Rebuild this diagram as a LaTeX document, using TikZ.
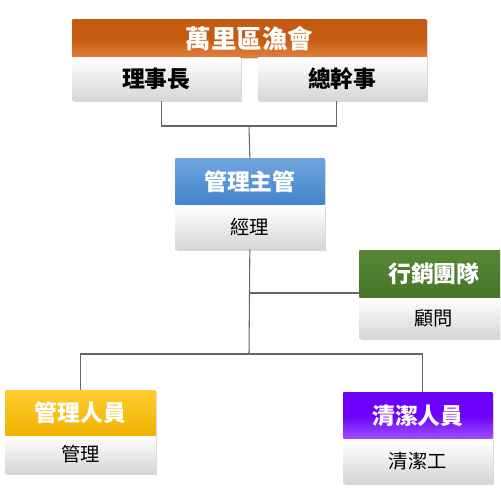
\documentclass[tikz,border=0pt]{standalone}
\usepackage{fontspec}
\setmainfont{Noto Sans CJK TC}
\usetikzlibrary{positioning,shadows}

\definecolor{orgTop}{RGB}{197,90,17}
\definecolor{orgBot}{RGB}{226,128,62}
\definecolor{bluTop}{RGB}{112,166,222}
\definecolor{bluBot}{RGB}{66,132,206}
\definecolor{grnTop}{RGB}{88,134,54}
\definecolor{grnBot}{RGB}{72,118,42}
\definecolor{ylwTop}{RGB}{255,204,48}
\definecolor{ylwBot}{RGB}{240,178,0}
\definecolor{prpTop}{RGB}{108,0,250}
\definecolor{prpBot}{RGB}{158,78,255}

\tikzset{
  box/.style={inner sep=0pt,anchor=north west,
    drop shadow={shadow xshift=1.2pt,shadow yshift=-1.2pt,opacity=0.3}},
  hdr/.style={box,text=white,font=\bfseries\fontsize{13}{15}\selectfont},
  bodybox/.style={box,anchor=north,top color=white,bottom color=black!16,
    text=black,font=\fontsize{11}{13}\selectfont},
  link/.style={draw=black!60,line width=0.6pt}
}

\begin{document}
\begin{tikzpicture}[x=0.02cm,y=-0.02cm]

  \def\px{0.02cm}
  \useasboundingbox (0,0) rectangle (500,500);
  \clip (0,0) rectangle (500,500);

  % --- Top: the association and its two officers ---
  \node[hdr,top color=orgTop,bottom color=orgBot,middle color=orgTop,
        minimum width=354*\px,minimum height=38*\px,
        font=\bfseries\fontsize{14.5}{16}\selectfont] (yuh) at (72,19) {萬里區漁會};
  \node[bodybox,anchor=north west,minimum width=168*\px,minimum height=43*\px,
        font=\bfseries\fontsize{13}{15}\selectfont] (lsb) at (72,57) {理事長};
  \node[bodybox,anchor=north west,minimum width=168*\px,minimum height=43*\px,
        font=\bfseries\fontsize{13}{15}\selectfont] (zgb) at (258,57) {總幹事};

  % --- Manager ---
  \node[hdr,top color=bluTop,bottom color=bluBot,
        minimum width=149*\px,minimum height=46*\px] (mgh) at (175,158) {管理主管};
  \node[bodybox,below=0pt of mgh,minimum width=149*\px,minimum height=44*\px] (mgb) {經理};

  % --- Marketing team (side branch) ---
  \node[hdr,top color=grnTop,bottom color=grnBot,
        minimum width=149*\px,minimum height=47*\px] (xsh) at (359,250) {行銷團隊};
  \node[bodybox,below=0pt of xsh,minimum width=149*\px,minimum height=40*\px] (xsb) {顧問};

  % --- Bottom row ---
  \node[hdr,top color=ylwTop,bottom color=ylwBot,
        minimum width=150*\px,minimum height=45*\px] (glh) at (5,390) {管理人員};
  \node[bodybox,below=0pt of glh,minimum width=150*\px,minimum height=37*\px] (glb) {管理};

  \node[hdr,top color=prpTop,bottom color=prpBot,middle color=prpTop,
        minimum width=149*\px,minimum height=46*\px] (qjh) at (343,392) {清潔人員};
  \node[bodybox,below=0pt of qjh,minimum width=149*\px,minimum height=44*\px] (qjb) {清潔工};

  % --- Connectors ---
  \coordinate (j1) at (249,126);
  \coordinate (j2) at (249,293);
  \coordinate (j3) at (249,354);

  \draw[link] ([xshift=5*\px]lsb.south) |- (j1) -| ([xshift=-6*\px]zgb.south);
  \draw[link] (j1) -- (mgh.north);
  \draw[link] (mgb.south) -- (j3);
  \draw[link] (j2) -- (j2 -| xsh.west);
  \draw[link] (glh.north) |- (j3) -| ([xshift=5*\px]qjh.north);

\end{tikzpicture}
\end{document}
